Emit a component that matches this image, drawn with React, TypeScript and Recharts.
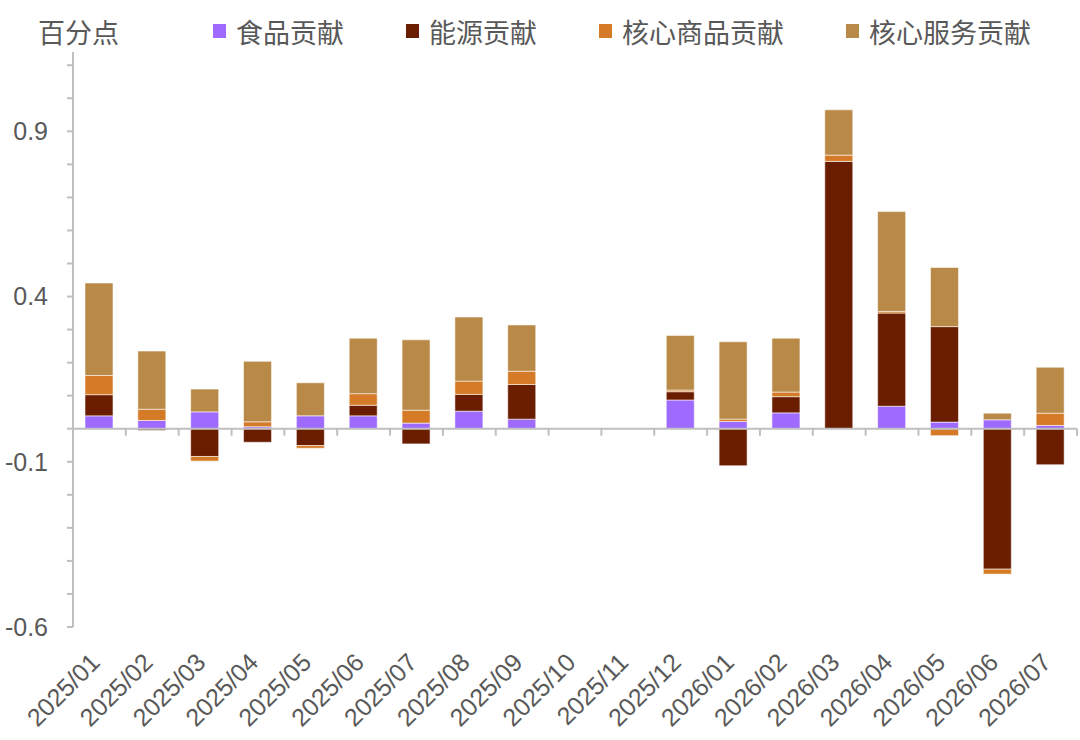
import React from "react"
import { BarChart, Bar, XAxis, YAxis, ReferenceLine } from "recharts"

const months = [
    "2025/01", "2025/02", "2025/03", "2025/04", "2025/05", "2025/06", "2025/07",
    "2025/08", "2025/09", "2025/10", "2025/11", "2025/12", "2026/01", "2026/02",
    "2026/03", "2026/04", "2026/05", "2026/06", "2026/07",
]
const food = [0.039, 0.025, 0.051, 0.006, 0.039, 0.039, 0.017, 0.053, 0.029, null, null, 0.087, 0.022, 0.048, 0, 0.068, 0.02, 0.027, 0.01]
const energy = [0.064, -0.005, -0.084, -0.041, -0.051, 0.032, -0.046, 0.051, 0.105, null, null, 0.025, -0.112, 0.049, 0.809, 0.282, 0.289, -0.425, -0.109]
const coreGoods = [0.058, 0.034, -0.014, 0.015, -0.008, 0.035, 0.039, 0.04, 0.04, null, null, 0.005, 0.007, 0.014, 0.019, 0.005, -0.021, -0.015, 0.037]
const coreServices = [0.28, 0.176, 0.069, 0.183, 0.1, 0.168, 0.213, 0.194, 0.14, null, null, 0.165, 0.234, 0.163, 0.137, 0.302, 0.179, 0.02, 0.139]

const yTicks = [-0.6, -0.5, -0.4, -0.3, -0.2, -0.1, 0, 0.1, 0.2, 0.3, 0.4, 0.5, 0.6, 0.7, 0.8, 0.9, 1.0, 1.1]
const yLabels = [-0.6, -0.1, 0.4, 0.9]

const series = [
    { key: "food", name: "食品贡献", color: "#9E6AFF" },
    { key: "energy", name: "能源贡献", color: "#6B1D00" },
    { key: "goods", name: "核心商品贡献", color: "#D57A26" },
    { key: "services", name: "核心服务贡献", color: "#B98947" },
]

const data = months.map((m, i) => ({
    month: m,
    food: food[i],
    energy: energy[i],
    goods: coreGoods[i],
    services: coreServices[i],
}))

const axisGrey = "#BFBFBF"
const textGrey = "#595959"
const numFont = "'Liberation Sans', Arial, sans-serif"
const cjkFont = "'Noto Sans CJK SC', sans-serif"

function MonthTick(props: any) {
    const { x, y, payload } = props
    return (
        <text
            transform={`translate(${x + 2},${y + 37}) rotate(-45)`}
            textAnchor="end"
            fontSize={25}
            fontFamily={numFont}
            fill={textGrey}
        >
            {payload.value}
        </text>
    )
}

// zero line with the category separators hanging under it
function ZeroAxis(props: any) {
    const { x1, x2, y1 } = props
    const step = (x2 - x1) / months.length
    return (
        <g>
            <line x1={x1} x2={x2} y1={y1} y2={y1} stroke={axisGrey} strokeWidth={2} />
            {months.map((_, i) => (
                <line
                    key={i}
                    x1={x1 + step * (i + 1)}
                    x2={x1 + step * (i + 1)}
                    y1={y1}
                    y2={y1 + 7}
                    stroke={axisGrey}
                    strokeWidth={2}
                />
            ))}
        </g>
    )
}

function TopLegend() {
    return (
        <div
            style={{
                position: "absolute", top: 14, left: 0, width: 1080,
                display: "flex", alignItems: "center", whiteSpace: "nowrap",
                fontFamily: cjkFont, fontSize: 27, color: textGrey, lineHeight: "36px",
            }}
        >
            <span style={{ marginLeft: 38, marginRight: 94 }}>百分点</span>
            {series.map((s) => (
                <span key={s.key} style={{ display: "flex", alignItems: "center", marginRight: 62, flexShrink: 0 }}>
                    <span style={{ width: 13, height: 14, background: s.color, display: "inline-block", marginRight: 10, marginTop: -3 }} />
                    {s.name}
                </span>
            ))}
        </div>
    )
}

export default function App() {
    return (
        <div style={{ position: "absolute", left: 0, top: 0, width: 1080, height: 740, background: "#fff" }}>
            <BarChart
                width={1080}
                height={740}
                data={data}
                stackOffset="sign"
                margin={{ top: 52, right: 3, bottom: 0, left: 0 }}
                barSize={28}
            >
                <XAxis
                    dataKey="month"
                    interval={0}
                    axisLine={false}
                    tickLine={false}
                    tickSize={0}
                    tickMargin={0}
                    height={113}
                    tick={<MonthTick />}
                />
                <YAxis
                    domain={[-0.6, 1.14]}
                    ticks={yTicks}
                    allowDataOverflow
                    width={73}
                    tickSize={6}
                    tickMargin={19}
                    axisLine={{ stroke: axisGrey, strokeWidth: 2 }}
                    tickLine={{ stroke: axisGrey, strokeWidth: 2 }}
                    tick={{ fontSize: 25, fontFamily: numFont, fill: textGrey }}
                    tickFormatter={(v: number) => (yLabels.some((l) => Math.abs(l - v) < 1e-6) ? String(v) : "")}
                />
                {series.map((s) => (
                    <Bar
                        key={s.key}
                        dataKey={s.key}
                        name={s.name}
                        stackId="cpi"
                        fill={s.color}
                        stroke="rgba(255,255,255,0.55)"
                        strokeWidth={1}
                        isAnimationActive={false}
                    />
                ))}
                <ReferenceLine y={0} shape={<ZeroAxis />} />
            </BarChart>
            <TopLegend />
        </div>
    )
}
